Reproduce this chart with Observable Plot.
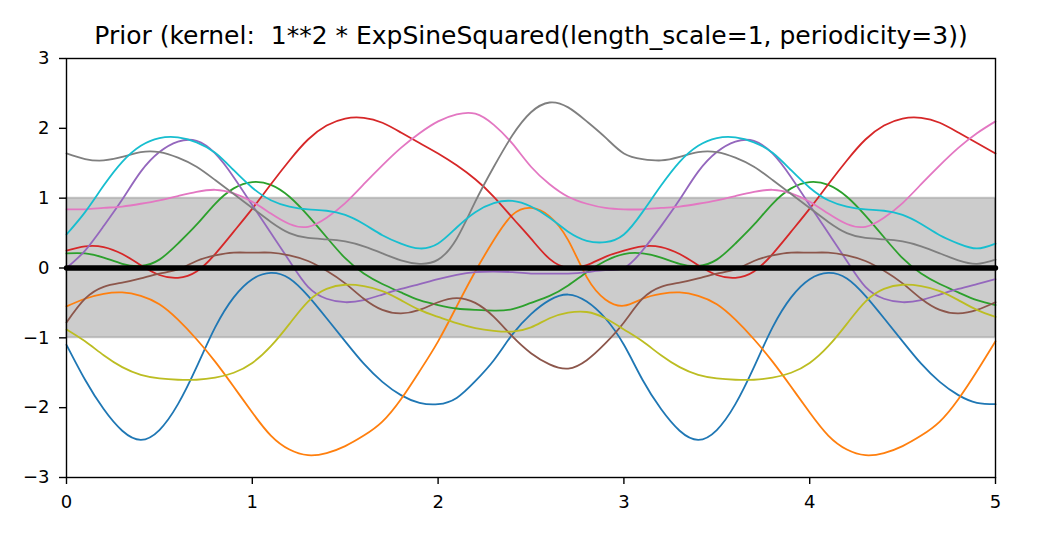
<!DOCTYPE html>
<html><head><meta charset="utf-8">
<script src="https://cdn.jsdelivr.net/npm/d3@7"></script>
<script src="https://cdn.jsdelivr.net/npm/@observablehq/plot@0.6"></script>
<style>
body{margin:0;background:#fff;}
svg text{white-space:pre;}
</style>
</head><body><div id="chart"></div>
<script>
const titleText = "Prior (kernel:  1**2 * ExpSineSquared(length_scale=1, periodicity=3))";
const xs = [0,0.1,0.2,0.3,0.4,0.5,0.6,0.7,0.8,0.9,1,1.1,1.2,1.3,1.4,1.5,1.6,1.7,1.8,1.9,2,2.1,2.2,2.3,2.4,2.5,2.6,2.7,2.8,2.9,3,3.1,3.2,3.3,3.4,3.5,3.6,3.7,3.8,3.9,4,4.1,4.2,4.3,4.4,4.5,4.6,4.7,4.8,4.9,5];
const s0 = [-1.1,-1.6,-2.02,-2.33,-2.46,-2.32,-1.95,-1.42,-0.85,-0.42,-0.16,-0.07,-0.15,-0.4,-0.72,-1.05,-1.37,-1.63,-1.82,-1.93,-1.95,-1.86,-1.62,-1.32,-0.95,-0.66,-0.46,-0.38,-0.48,-0.72,-1.1,-1.6,-2.02,-2.33,-2.46,-2.32,-1.95,-1.42,-0.85,-0.42,-0.16,-0.07,-0.15,-0.4,-0.72,-1.05,-1.37,-1.63,-1.82,-1.93,-1.95];
const s1 = [-0.55,-0.44,-0.37,-0.35,-0.4,-0.52,-0.74,-1.02,-1.34,-1.7,-2.07,-2.4,-2.6,-2.68,-2.65,-2.55,-2.4,-2.2,-1.88,-1.48,-1.05,-0.55,-0.05,0.4,0.76,0.86,0.74,0.4,-0.13,-0.45,-0.54,-0.44,-0.37,-0.35,-0.4,-0.52,-0.74,-1.02,-1.34,-1.7,-2.07,-2.4,-2.6,-2.68,-2.65,-2.55,-2.4,-2.2,-1.88,-1.48,-1.05];
const s2 = [0.21,0.21,0.15,0.06,0.03,0.12,0.35,0.62,0.92,1.14,1.23,1.19,1.02,0.75,0.44,0.14,-0.08,-0.23,-0.35,-0.46,-0.53,-0.58,-0.6,-0.61,-0.59,-0.5,-0.4,-0.25,-0.06,0.1,0.2,0.21,0.15,0.06,0.03,0.12,0.35,0.62,0.92,1.14,1.23,1.19,1.02,0.75,0.44,0.14,-0.08,-0.23,-0.35,-0.46,-0.53];
const s3 = [0.25,0.31,0.3,0.2,0.04,-0.1,-0.14,-0.05,0.2,0.52,0.85,1.2,1.54,1.84,2.04,2.14,2.15,2.08,1.94,1.79,1.64,1.47,1.27,1.02,0.72,0.42,0.13,0,0.04,0.16,0.25,0.31,0.3,0.2,0.04,-0.1,-0.14,-0.05,0.2,0.52,0.85,1.2,1.54,1.84,2.04,2.14,2.15,2.08,1.94,1.79,1.64];
const s4 = [0,0.25,0.6,0.98,1.38,1.66,1.81,1.82,1.64,1.3,0.9,0.5,0.1,-0.27,-0.44,-0.49,-0.46,-0.38,-0.3,-0.23,-0.16,-0.1,-0.06,-0.05,-0.06,-0.08,-0.08,-0.08,-0.06,-0.03,0,0.25,0.6,0.98,1.38,1.66,1.81,1.82,1.64,1.3,0.9,0.5,0.1,-0.27,-0.44,-0.49,-0.46,-0.38,-0.3,-0.23,-0.16];
const s5 = [-0.78,-0.44,-0.27,-0.21,-0.15,-0.08,-0.02,0.1,0.18,0.22,0.22,0.22,0.18,0.1,-0.04,-0.22,-0.44,-0.6,-0.65,-0.6,-0.49,-0.43,-0.5,-0.7,-0.98,-1.22,-1.38,-1.44,-1.32,-1.08,-0.78,-0.44,-0.27,-0.21,-0.15,-0.08,-0.02,0.1,0.18,0.22,0.22,0.22,0.18,0.1,-0.04,-0.22,-0.44,-0.6,-0.65,-0.6,-0.49];
const s6 = [0.84,0.84,0.86,0.88,0.92,0.97,1.03,1.09,1.12,1.07,0.95,0.78,0.63,0.59,0.72,0.93,1.2,1.47,1.72,1.93,2.1,2.2,2.21,2.05,1.78,1.45,1.2,1.02,0.92,0.86,0.84,0.84,0.86,0.88,0.92,0.97,1.03,1.09,1.12,1.07,0.95,0.78,0.63,0.59,0.72,0.93,1.2,1.47,1.72,1.93,2.1];
const s7 = [1.64,1.56,1.54,1.59,1.66,1.66,1.58,1.45,1.26,1.06,0.86,0.66,0.5,0.43,0.41,0.38,0.31,0.21,0.11,0.06,0.12,0.42,0.95,1.45,1.9,2.23,2.37,2.3,2.1,1.87,1.64,1.56,1.54,1.59,1.66,1.66,1.58,1.45,1.26,1.06,0.86,0.66,0.5,0.43,0.41,0.38,0.31,0.21,0.11,0.06,0.12];
const s8 = [-0.88,-1.05,-1.25,-1.42,-1.53,-1.58,-1.6,-1.6,-1.57,-1.5,-1.36,-1.12,-0.8,-0.48,-0.3,-0.24,-0.26,-0.33,-0.46,-0.6,-0.7,-0.79,-0.86,-0.9,-0.91,-0.85,-0.72,-0.64,-0.63,-0.72,-0.88,-1.05,-1.25,-1.42,-1.53,-1.58,-1.6,-1.6,-1.57,-1.5,-1.36,-1.12,-0.8,-0.48,-0.3,-0.24,-0.26,-0.33,-0.46,-0.6,-0.7];
const s9 = [0.48,0.8,1.18,1.52,1.75,1.86,1.87,1.8,1.65,1.4,1.15,0.97,0.88,0.84,0.82,0.76,0.63,0.47,0.35,0.28,0.35,0.58,0.8,0.93,0.96,0.88,0.72,0.52,0.39,0.37,0.48,0.8,1.18,1.52,1.75,1.86,1.87,1.8,1.65,1.4,1.15,0.97,0.88,0.84,0.82,0.76,0.63,0.47,0.35,0.28,0.35];
const seriesList = [s0,s1,s2,s3,s4,s5,s6,s7,s8,s9];
const seriesColors = ["#1f77b4","#ff7f0e","#2ca02c","#d62728","#9467bd","#8c564b","#e377c2","#7f7f7f","#bcbd22","#17becf"];
const meanX = [0, 5];
const meanY = [0, 0];
const stdY = [1, 1];
const xTicks = [0,1,2,3,4,5];
const yTicks = [-3,-2,-1,0,1,2,3];

const bandRows = meanX.map((x,i)=>({x, lo: meanY[i]-stdY[i], hi: meanY[i]+stdY[i]}));
const meanRows = meanX.map((x,i)=>({x, y: meanY[i]}));
const fmt = d => d < 0 ? "\u2212" + Math.abs(d) : String(d);

const chart = Plot.plot({
  width: 1044, height: 542,
  marginLeft: 66, marginRight: 49, marginTop: 58, marginBottom: 65,
  style: {fontFamily: "DejaVu Sans", fontSize: "18px", background: "white", color: "black"},
  x: {domain: [0,5]},
  y: {domain: [-3,3]},
  marks: [
    Plot.areaY(bandRows, {x: "x", y1: "lo", y2: "hi", fill: "black", fillOpacity: 0.2, stroke: "black", strokeOpacity: 0.2, strokeWidth: 1.8}),
    ...seriesList.map((s,k) => Plot.line(s.map((y,i)=>({x: xs[i], y})), {x: "x", y: "y", stroke: seriesColors[k], strokeWidth: 1.8, curve: "natural"})),
    Plot.line(meanRows, {x: "x", y: "y", stroke: "black", strokeWidth: 5.4}),
    Plot.frame({stroke: "black", strokeWidth: 1.4}),
    Plot.axisX({ticks: xTicks, tickFormat: fmt, tickSize: 7, tickPadding: 11, strokeWidth: 1.4, label: null, fontSize: 18}),
    Plot.axisY({ticks: yTicks, tickFormat: fmt, tickSize: 7, tickPadding: 10, strokeWidth: 1.4, label: null, fontSize: 18}),
    Plot.text([titleText], {frameAnchor: "top", lineAnchor: "middle", dy: -22.7, fontSize: 25, fill: "black"})
  ]
});
document.getElementById("chart").appendChild(chart);
</script>
</body></html>
